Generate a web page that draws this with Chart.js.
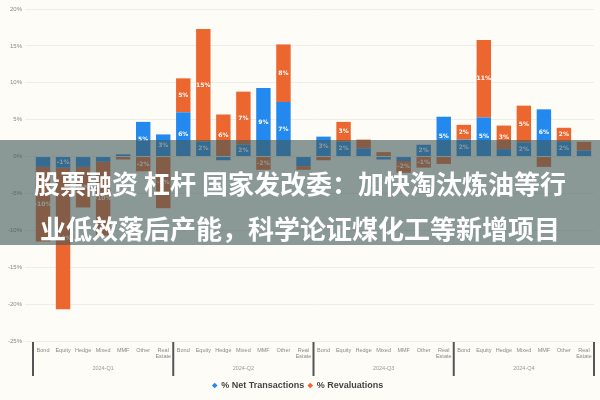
<!DOCTYPE html>
<html>
<head>
<meta charset="utf-8">
<script src="https://cdn.jsdelivr.net/npm/chart.js@4"></script>
<style>
  html, body { margin: 0; padding: 0; background: #fdfcf6; }
  #wrap { position: relative; width: 600px; height: 400px; }
  #banner {
    position: absolute; left: 0; top: 140px; width: 600px; height: 105px;
    background: rgba(62, 86, 86, 0.6);
    color: #fff; font-family: "Noto Sans CJK SC", sans-serif; font-weight: bold;
    font-size: 26px; line-height: 45px; text-align: center;
    box-sizing: border-box; padding-top: 20px; white-space: pre;
  }
</style>
</head>
<body>
<div id="wrap">
  <canvas id="chart" width="600" height="400"></canvas>
  <div id="banner">股票融资 杠杆 国家发改委：加快淘汰炼油等行
业低效落后产能，科学论证煤化工等新增项目</div>
</div>
<script>
// categories repeat inside each quarter
const categories = ['Bond', 'Equity', 'Hedge', 'Mixed', 'MMF', 'Other', ['Real', 'Estate']];
const quarters = ['2024-Q1', '2024-Q2', '2024-Q3', '2024-Q4'];
const yTicks = [20, 15, 10, 5, 0, -5, -10, -15, -20, -25];

const netTransactions = [
  -1.4, -1.5, -1.4, -0.7, 0.3, 4.7, 3.0,
  6.0, 2.0, -0.5, 1.6, 9.3, 7.4, -1.3,
  2.7, 2.0, 1.1, -0.4, -0.6, 1.6, 5.4,
  2.3, 5.3, 1.0, 1.9, 6.4, 2.0, 0.8,
];
const revaluations = [
  -10.1, -19.2, -5.5, -10.0, -0.4, -2.0, -7.0,
  4.6, 15.3, 5.7, 7.2, -1.8, 7.8, -0.5,
  -0.5, 2.7, 1.2, 0.6, -1.6, -1.5, -1.0,
  2.0, 10.5, 3.2, 5.0, -1.4, 1.9, 1.2,
];

const labels = [];
quarters.forEach(() => categories.forEach(c => labels.push(c)));

const BLUE = '#2489ee';
const ORANGE = '#ec6630';

// white % labels inside segments
const barLabels = {
  id: 'barLabels',
  afterDatasetsDraw(chart) {
    const ctx = chart.ctx;
    ctx.save();
    ctx.fillStyle = '#fff';
    ctx.font = 'bold 6px "DejaVu Sans", sans-serif';
    ctx.textAlign = 'center';
    ctx.textBaseline = 'middle';
    chart.data.datasets.forEach((ds, di) => {
      chart.getDatasetMeta(di).data.forEach((bar, i) => {
        const h = Math.abs(bar.base - bar.y);
        if (h < 10) return;
        ctx.fillText(Math.round(ds.data[i]) + '%', bar.x, (bar.y + bar.base) / 2);
      });
    });
    ctx.restore();
  }
};

// quarter separators under the axis
const separators = {
  id: 'separators',
  afterDraw(chart) {
    const x = chart.scales.x;
    const ctx = chart.ctx;
    ctx.save();
    ctx.strokeStyle = '#555';
    ctx.lineWidth = 2;
    for (let i = 0; i <= quarters.length; i++) {
      const px = x.left + i * (x.right - x.left) / quarters.length;
      ctx.beginPath();
      ctx.moveTo(px, x.top + 1);
      ctx.lineTo(px, x.bottom + 15);
      ctx.stroke();
    }
    ctx.restore();
  }
};

const bg = {
  id: 'bg',
  beforeDraw(chart) {
    const ctx = chart.ctx;
    ctx.save();
    ctx.fillStyle = '#fdfcf6';
    ctx.fillRect(0, 0, chart.width, chart.height);
    ctx.restore();
  }
};

new Chart(document.getElementById('chart'), {
  type: 'bar',
  data: {
    labels: labels,
    datasets: [
      { label: '% Net Transactions', data: netTransactions, backgroundColor: BLUE },
      { label: '% Revaluations', data: revaluations, backgroundColor: ORANGE },
    ],
  },
  options: {
    responsive: false,
    animation: false,
    layout: { padding: { top: 9, right: 6, left: 2, bottom: 0 } },
    scales: {
      x: {
        stacked: true,
        grid: { display: false, drawTicks: false },
        border: { display: false },
        ticks: { color: '#888', font: { size: 5.5, lineHeight: 1.2 }, maxRotation: 0, autoSkip: false, padding: 6 },
        afterFit(s) { s.height = 20; },
      },
      x2: {
        type: 'category',
        labels: quarters,
        position: 'bottom',
        grid: { display: false, drawTicks: false },
        border: { display: false },
        ticks: { color: '#999', font: { size: 5.5 }, padding: 4 },
        afterFit(s) { s.height = 16; },
      },
      y: {
        stacked: true,
        min: -25,
        max: 20,
        afterBuildTicks(s) { s.ticks = yTicks.map(v => ({ value: v })); },
        grid: { color: '#efeee6' },
        border: { display: false },
        ticks: { color: '#888', font: { size: 6 }, callback: v => v + '%' },
        afterFit(s) { s.width = 31; },
      },
    },
    plugins: {
      legend: {
        position: 'bottom',
        labels: {
          usePointStyle: true,
          pointStyle: 'rectRot',
          boxWidth: 4,
          boxHeight: 4,
          padding: 4,
          color: '#444',
          font: { size: 9, weight: 'bold' },
        },
      },
      tooltip: { enabled: false },
    },
  },
  plugins: [bg, barLabels, separators],
});
</script>
</body>
</html>
